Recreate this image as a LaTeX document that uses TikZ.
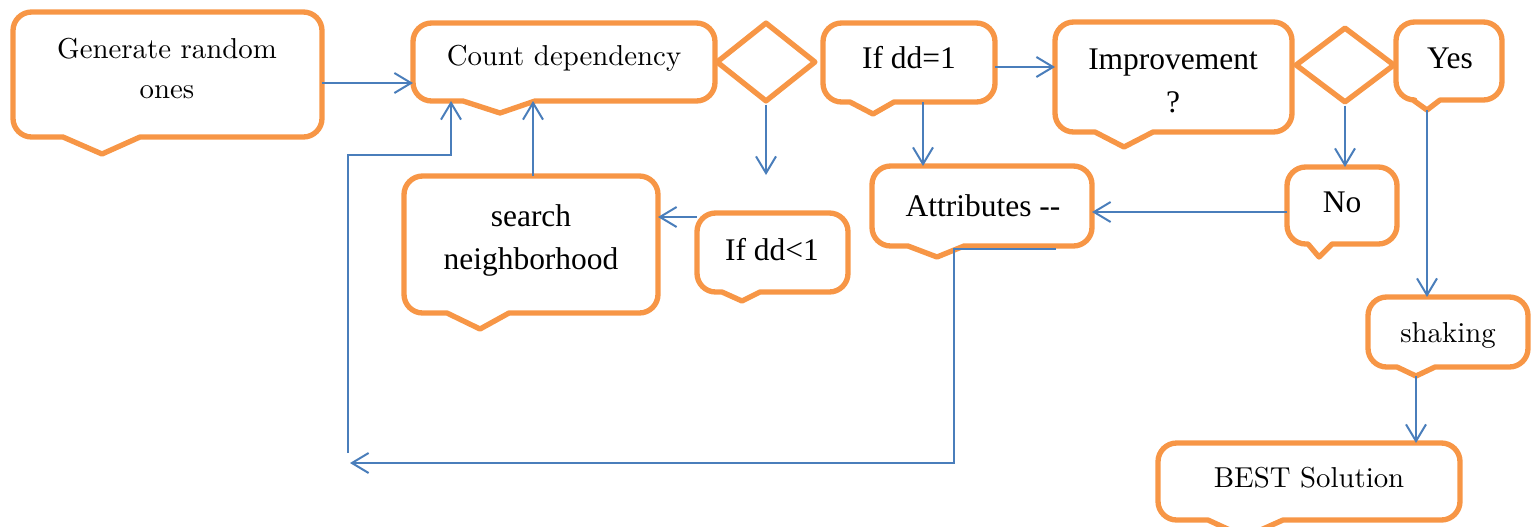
\documentclass[tikz,border=0pt]{standalone}
\usepackage{fontspec}
\newfontfamily\tnr{Liberation Serif}
\newfontfamily\camb{lmroman10-regular.otf}
\usetikzlibrary{arrows.meta,shapes.geometric,fit}
\definecolor{cborange}{HTML}{F79646}
\definecolor{cnblue}{HTML}{4A7EBB}
\tikzset{
  cb/.style={draw=cborange, line width=4pt, line join=round},
  cdia/.style={diamond, draw=cborange, line width=4pt, inner sep=0pt, line join=round},
  cn/.style={draw=cnblue, line width=1.5pt, -{Straight Barb[length=12.5pt,width=15pt,line width=1.5pt]}},
  boxn/.style={inner sep=0pt, outer sep=0pt},
  tt/.style={font=\tnr\fontsize{23.6}{32}\selectfont, anchor=base, align=center, inner sep=0pt},
  ct/.style={font=\camb\fontsize{21.6}{30}\selectfont, anchor=base, align=center, inner sep=0pt},
}
% name, left, top, right, bottom, pointer start, pointer tip x, pointer end, tip y
\newcommand\cbx[9]{%
  \node[fit={(#2,#3)(#4,#5)}, boxn] (#1) {};
  \coordinate (#1-tip) at (#7,#9);
  \draw[cb] (#7,#9) -- (#6,#5) [rounded corners=14pt] -- (#2,#5) -- (#2,#3) -- (#4,#3) -- (#4,#5) [sharp corners] -- (#8,#5) -- cycle;
}
\begin{document}
\begin{tikzpicture}[x=0.75pt,y=-0.75pt]
\useasboundingbox (0,0) rectangle (1531,526);
\clip (0,0) rectangle (1531,526);

% callout boxes
\cbx{gen}{13}{12}{322}{137}{63}{102}{140}{154}
\cbx{cnt}{413}{23}{715}{101}{463}{500}{535}{113}
\cbx{dd1}{823}{23}{995}{102}{850}{873}{894}{114}
\cbx{impr}{1055}{22}{1292}{132}{1095}{1124}{1153}{147}
\cbx{yes}{1396}{22}{1502}{100}{1413}{1427}{1440}{110}
\cbx{search}{404}{176}{658}{313}{447}{480}{509}{329}
\cbx{ddl}{697}{213}{848}{292}{722}{742}{760}{301}
\cbx{attr}{872}{166}{1092}{246}{908}{937}{964}{257}
\cbx{no}{1287}{167}{1397}{244}{1308}{1319}{1332}{257}
\cbx{shaking}{1368}{297}{1528}{367}{1397}{1416}{1435}{376}
\cbx{best}{1158}{443}{1460}{520}{1208}{1245}{1283}{537}

% diamonds
\node[cdia, minimum width=75pt, minimum height=60pt] (d1) at (766,62) {};
\node[cdia, minimum width=75pt, minimum height=57pt] (d2) at (1345,65) {};

% texts (base anchor = baseline of the last line)
\node[ct] (gen-t) at (167,98) {Generate random\\ones};
\node[ct] (cnt-t) at (564,65) {Count dependency};
\node[tt] (dd1-t) at (909,68) {If dd=1};
\node[tt] (impr-t) at (1173,112) {Improvement\\?};
\node[tt] (yes-t) at (1450,68) {Yes};
\node[tt] (search-t) at (531,269) {search\\neighborhood};
\node[tt] (ddl-t) at (772,260) {If dd<1};
\node[tt] (attr-t) at (983,216) {Attributes --};
\node[tt] (no-t) at (1342,212) {No};
\node[ct] (shaking-t) at (1448,342) {shaking};
\node[ct] (best-t) at (1309,487) {BEST Solution};

% connectors
\draw[cn] (gen.east |- 0,83) -- (cnt.west |- 0,83);
\coordinate (lb) at (348,453);
\draw[cn] (lb) -- (348,155) -- (451,155) -- (451,0 |- cnt.south);
\coordinate (ls) at (1056,249);
\coordinate (le) at (350,463);
\draw[cn] (ls) -- (954,249) -- (954,463) -- (le);
\coordinate (d1e) at (765,175);
\draw[cn] (d1.south) -- (d1.south |- d1e);
\draw[cn] (dd1.east |- 0,67) -- (impr.west |- 0,67);
\draw[cn] (923,0 |- dd1.south) -- (923,0 |- attr.north);
\draw[cn] (ddl.west |- 0,217) -- (search.east |- 0,217);
\draw[cn] (search.north -| 533,0) -- (cnt.south -| 533,0);
\draw[cn] (no.west |- 0,212) -- (attr.east |- 0,212);
\draw[cn] (d2.south) -- (no.north -| d2.south);
\draw[cn] (yes-tip) -- (shaking.north -| yes-tip);
\draw[cn] (shaking-tip) -- (best.north -| shaking-tip);
\end{tikzpicture}
\end{document}
